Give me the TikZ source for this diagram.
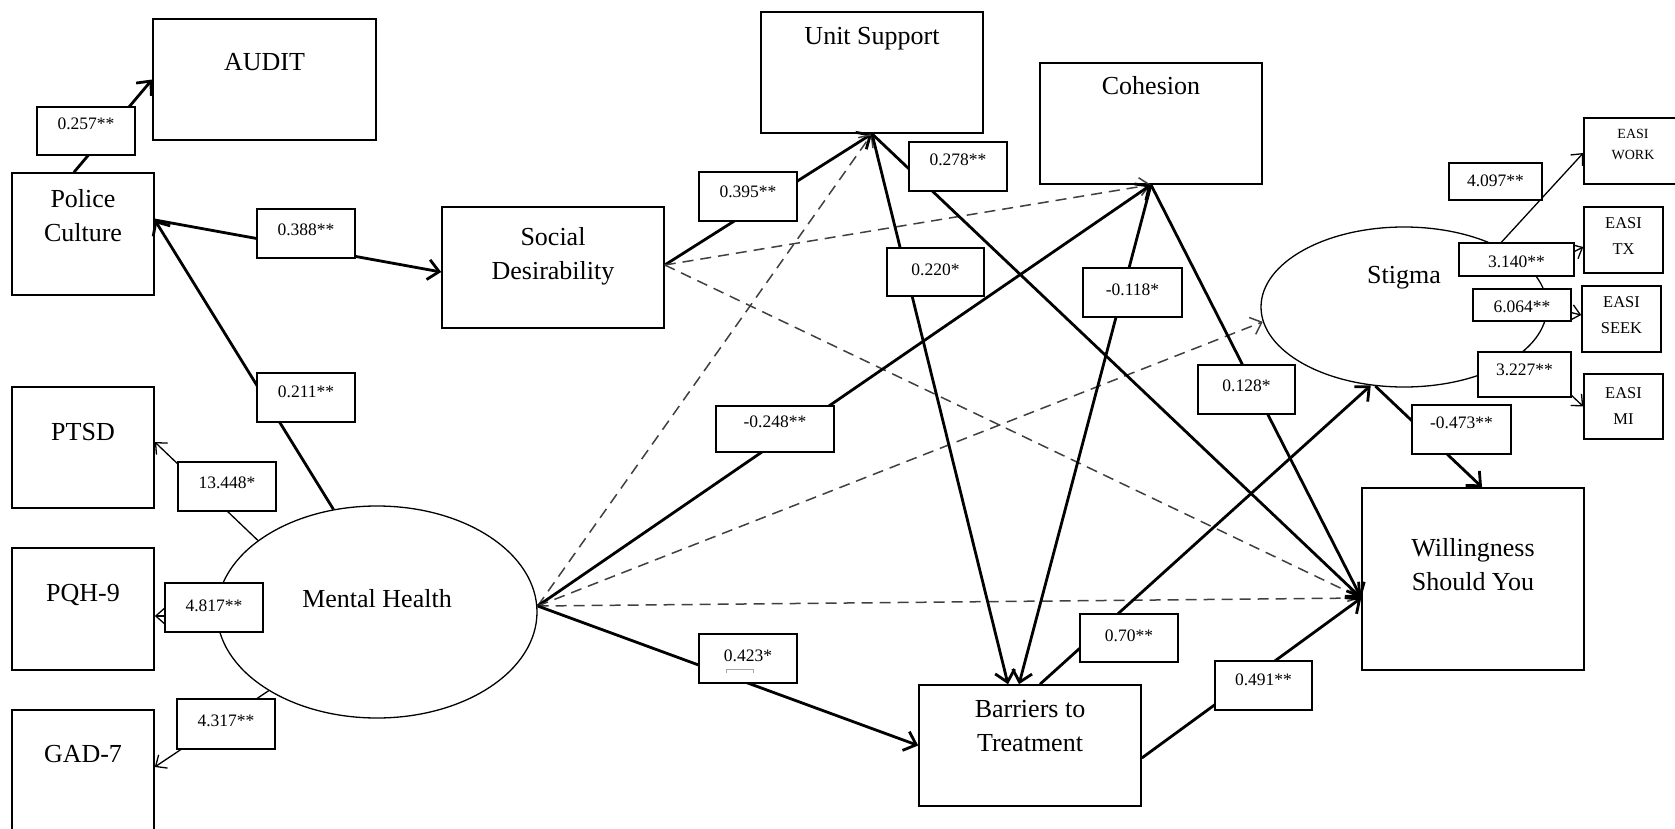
\documentclass[tikz,border=0pt]{standalone}
\usepackage{fontspec}
\setmainfont{Liberation Serif}
\usetikzlibrary{arrows.meta,shapes.geometric}
\newcommand{\boxtext}[2]{\raisebox{#1pt}[0pt][0pt]{\begin{tabular}[t]{@{}c@{}}#2\end{tabular}}}
\begin{document}
\begin{tikzpicture}[x=1pt,y=-1pt,
  box/.style={draw, rectangle, line width=1.6pt, inner sep=0pt, font=\fontsize{26}{34.5}\selectfont},
  smallbox/.style={draw, rectangle, line width=1.5pt, inner sep=0pt, font=\fontsize{16.5}{26}\selectfont},
  oval/.style={draw, ellipse, line width=1.3pt, inner sep=0pt, font=\fontsize{26}{34.5}\selectfont},
  coef/.style={draw, fill=white, rectangle, line width=1.5pt, inner sep=0pt, font=\fontsize{17.5}{21}\selectfont},
  solidpath/.style={line width=2.8pt, -{Straight Barb[length=11pt,width=20pt]}},
  thinpath/.style={line width=1.3pt, -{Straight Barb[length=9pt,width=16pt]}},
  dashpath/.style={line width=1.5pt, black!75, dash pattern=on 11pt off 7pt, -{Straight Barb[length=10pt,width=18pt]}},
]
\useasboundingbox (0,0) rectangle (1675,829);
\fill[white] (0,0) rectangle (1675,829);
\begin{scope}
\clip (0,0) rectangle (1675,829);
% ---------- main variables ----------
\node[box, minimum width=223pt, minimum height=121pt] (audit) at (264.5,79.5) {\boxtext{8.5}{AUDIT}};
\node[box, minimum width=142pt, minimum height=122pt] (pc) at (83,234) {\boxtext{27}{Police\\Culture}};
\node[box, minimum width=142pt, minimum height=121pt] (ptsd) at (83,447.5) {\boxtext{7.5}{PTSD}};
\node[box, minimum width=142pt, minimum height=122pt] (pqh) at (83,609) {\boxtext{8}{PQH-9}};
\node[box, minimum width=142pt, minimum height=150pt] (gad) at (83,785) {\boxtext{23}{GAD-7}};
\node[box, minimum width=222pt, minimum height=121pt] (sd) at (553,267.5) {\boxtext{22.5}{Social\\Desirability}};
\node[box, minimum width=222pt, minimum height=121pt] (us) at (872,72.5) {\boxtext{27.5}{Unit Support}};
\node[box, minimum width=222pt, minimum height=121pt] (coh) at (1151,123.5) {\boxtext{28.5}{Cohesion}};
\node[box, minimum width=222pt, minimum height=121pt] (bar) at (1030,745.5) {\boxtext{28.5}{Barriers to\\Treatment}};
\node[box, minimum width=222pt, minimum height=182pt] (will) at (1473,579) {\boxtext{23}{Willingness\\Should You}};
\node[smallbox, font=\fontsize{14}{21}\selectfont, minimum width=98pt, minimum height=66pt] (work) at (1633,151) {\boxtext{12}{EASI\\WORK}};
\node[smallbox, minimum width=79pt, minimum height=66pt] (tx) at (1623.5,240) {\boxtext{12}{EASI\\TX}};
\node[smallbox, minimum width=79pt, minimum height=66pt] (seek) at (1621.5,319) {\boxtext{12}{EASI\\SEEK}};
\node[smallbox, minimum width=79pt, minimum height=65pt] (mi) at (1623.5,406.5) {\boxtext{8.5}{EASI\\MI}};
\node[oval, minimum width=320pt, minimum height=212pt] (mh) at (377,612) {\boxtext{5}{Mental Health}};
\node[oval, minimum width=286pt, minimum height=160pt] (st) at (1404,307) {\boxtext{24}{Stigma}};
% ---------- connectors ----------
\draw[solidpath] ([xshift=-9pt]pc.north) -- (audit.west);
\draw[solidpath] ([yshift=14pt]pc.east) -- ([yshift=-4.5pt]sd.west);
\draw[solidpath] (mh.113) -- ([yshift=14pt]pc.east);
\draw[thinpath] (mh.149) -- ([yshift=5.5pt]ptsd.east);
\draw[thinpath] ([yshift=-4pt]mh.west) -- ([yshift=-7pt]pqh.east);
\draw[thinpath] (mh.216) -- ([yshift=18pt]gad.east);
\draw[solidpath] ([yshift=2.5pt]sd.east) -- (us.south);
\draw[dashpath] ([yshift=2.5pt]sd.east) -- (coh.south);
\draw[dashpath] ([yshift=2.5pt]sd.east) -- ([yshift=-19pt]will.west);
\draw[dashpath] ([yshift=6pt]mh.east) -- (us.south);
\draw[solidpath] ([yshift=6pt]mh.east) -- (coh.south);
\draw[dashpath] ([yshift=6pt]mh.east) -- (st.186);
\draw[dashpath] ([yshift=6pt]mh.east) -- ([yshift=-19pt]will.west);
\draw[solidpath] ([yshift=6pt]mh.east) -- (bar.west);
\draw[solidpath] (us.south) -- ([xshift=-22pt]bar.north);
\draw[solidpath] (us.south) -- ([yshift=-19pt]will.west);
\draw[solidpath] (coh.south) -- ([xshift=-11pt]bar.north);
\draw[solidpath] (coh.south) -- ([yshift=-19pt]will.west);
\draw[solidpath] ([xshift=10pt]bar.north) -- (st.247);
\draw[solidpath] ([yshift=-12.5pt]bar.east) -- ([yshift=-19pt]will.west);
\draw[solidpath] (st.250) -- ([xshift=9pt]will.north);
\draw[thinpath] (st.33) -- ([yshift=-2pt]work.west);
\draw[thinpath] (st.15) -- ([yshift=-7pt]tx.west);
\draw[thinpath] (st.0) -- ([yshift=4pt]seek.west);
\draw[thinpath] (st.-20) -- (mi.west);
% ---------- coefficient labels ----------
\node[coef, minimum width=98pt, minimum height=48pt] (l257) at (86,131) {\boxtext{1}{0.257**}};
\node[coef, minimum width=98pt, minimum height=49pt] (l388) at (306,233.5) {\boxtext{-1.5}{0.388**}};
\node[coef, minimum width=98pt, minimum height=49pt] (l211) at (306,397.5) {\boxtext{0.5}{0.211**}};
\node[coef, minimum width=98pt, minimum height=49pt] (l13448) at (227,486.5) {\boxtext{-1.5}{13.448*}};
\node[coef, minimum width=98pt, minimum height=49pt] (l4817) at (214,607.5) {\boxtext{-3.5}{4.817**}};
\node[coef, minimum width=98pt, minimum height=50pt] (l4317) at (226,724) {\boxtext{-2}{4.317**}};
\node[coef, minimum width=98pt, minimum height=49pt] (l395) at (748,196.5) {\boxtext{-1.5}{0.395**}};
\node[coef, minimum width=98pt, minimum height=49pt] (l278) at (958,166.5) {\boxtext{0.5}{0.278**}};
\node[coef, minimum width=97pt, minimum height=48pt] (l220) at (935.5,272) {\boxtext{-3}{0.220*}};
\node[coef, minimum width=118pt, minimum height=46pt] (l248) at (775,429) {\boxtext{2}{-0.248**}};
\node[coef, minimum width=98pt, minimum height=49pt] (l423) at (748,658.5) {\boxtext{-2.5}{0.423*}};
\node[coef, minimum width=99pt, minimum height=49pt] (l118) at (1132.5,292.5) {\boxtext{-2.5}{-0.118*}};
\node[coef, minimum width=97pt, minimum height=49pt] (l128) at (1246.5,389.5) {\boxtext{-1.5}{0.128*}};
\node[coef, minimum width=98pt, minimum height=48pt] (l70) at (1129,638) {\boxtext{-3}{0.70**}};
\node[coef, minimum width=97pt, minimum height=49pt] (l491) at (1263.5,685.5) {\boxtext{0.5}{0.491**}};
\node[coef, minimum width=93pt, minimum height=37pt] (l4097) at (1495.5,181.5) {\boxtext{-5.5}{4.097**}};
\node[coef, minimum width=115pt, minimum height=33pt] (l3140) at (1516.5,259.5) {\boxtext{-7.5}{3.140**}};
\node[coef, minimum width=98pt, minimum height=32pt] (l6064) at (1522,305) {\boxtext{-7}{6.064**}};
\node[coef, minimum width=93pt, minimum height=45pt] (l3227) at (1524.5,374.5) {\boxtext{-0.5}{3.227**}};
\node[coef, minimum width=99pt, minimum height=49pt] (l473) at (1461.5,429.5) {\boxtext{1.5}{-0.473**}};
\draw[black!35, line width=0.8pt] ([shift={(-22,14.5)}]l423.center) -- ++(0,-4) -- ++(27,0) -- ++(0,4);
\end{scope}
\end{tikzpicture}
\end{document}
